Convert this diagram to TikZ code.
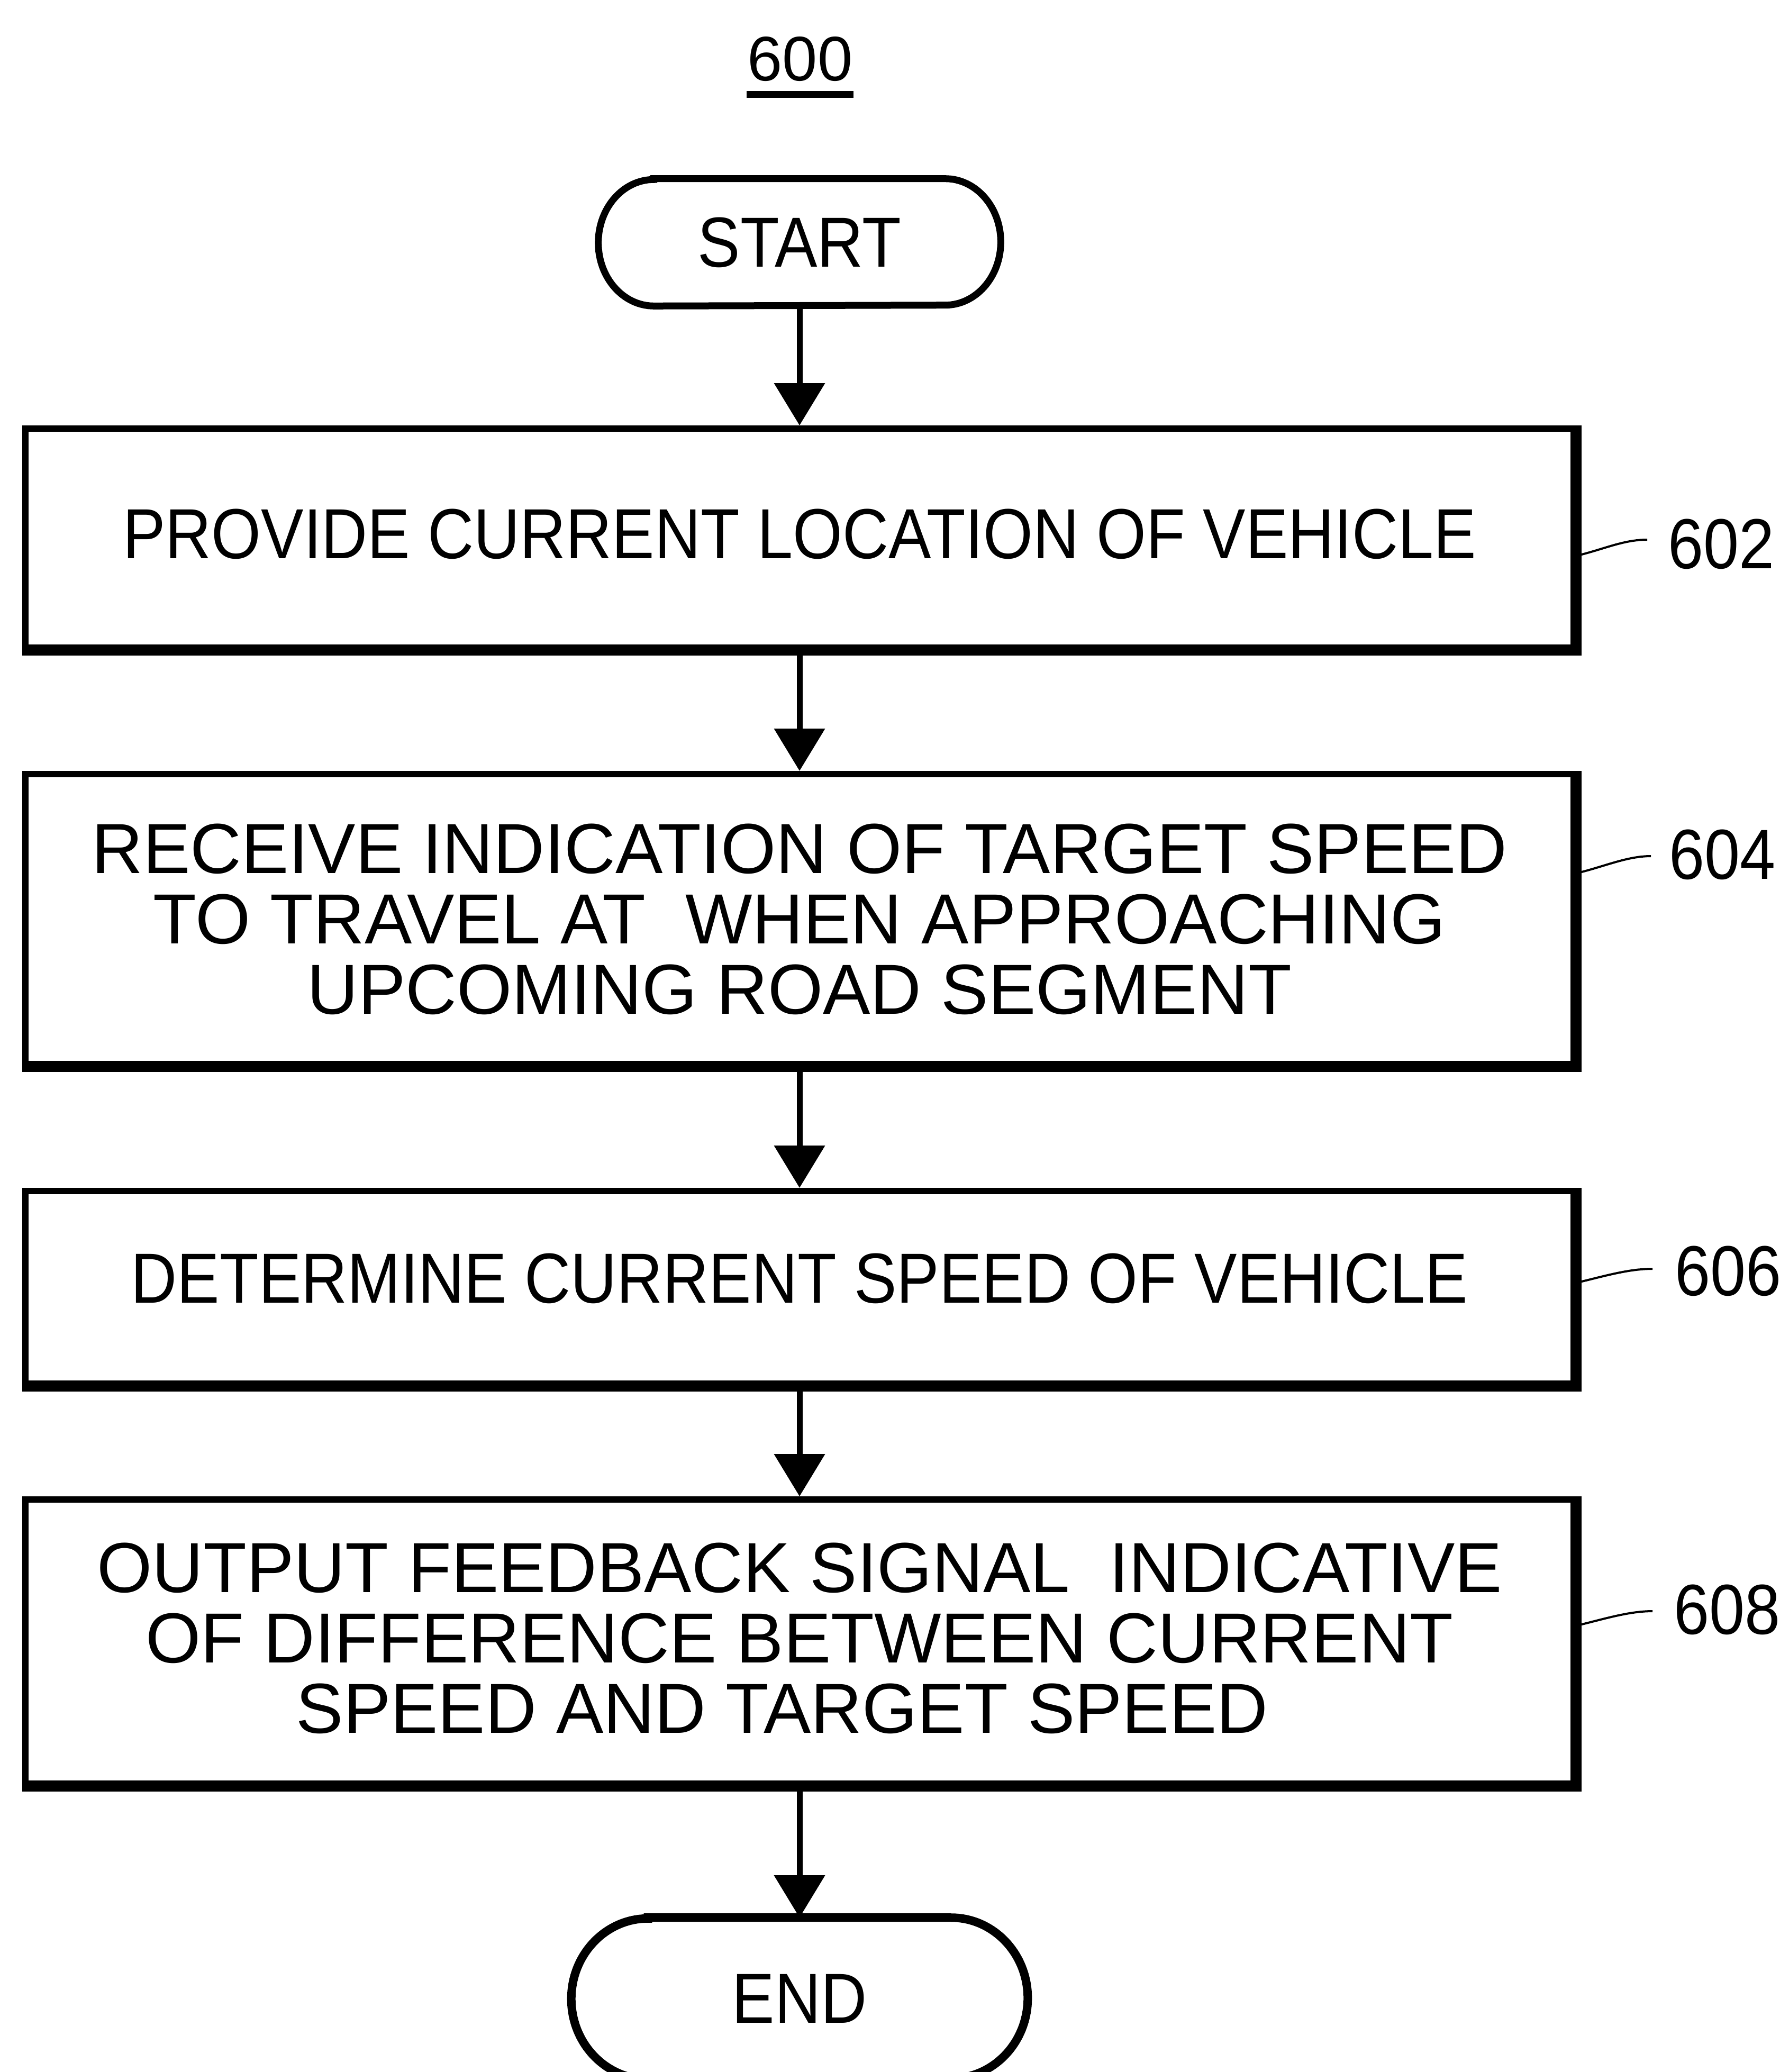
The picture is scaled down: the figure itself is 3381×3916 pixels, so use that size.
\documentclass[tikz,border=0pt]{standalone}
\usepackage{fontspec}
\setmainfont{Liberation Sans}
\newfontfamily\narrowfont[FakeStretch=0.9]{Liberation Sans}
\usetikzlibrary{arrows.meta,calc}
\begin{document}
\begin{tikzpicture}[x=0.25pt,y=0.25pt,
  boxbase/.style={draw, line width=3pt, inner sep=0pt, align=center, minimum width=731.5pt},
  narrowtext/.style={font=\narrowfont\fontsize{33.5}{33.25}\selectfont},
  widetext/.style={font=\fontsize{33.5}{33.25}\selectfont},
  termnode/.style={inner sep=0pt, font=\narrowfont\fontsize{33.5}{33.25}\selectfont},
  thickedge/.style={line width=4.5pt, line cap=square},
  flow/.style={line width=2.75pt, -{Triangle[width=23.5pt,length=20pt]}},
  reflabel/.style={inner sep=0pt, anchor=west, font=\narrowfont\fontsize{33.5}{33.25}\selectfont},
  leader/.style={line width=1pt}]
\useasboundingbox (0,0) rectangle (3381,-3916);

% title
\node[inner sep=0pt, anchor=base, font=\fontsize{29.75}{30}\selectfont] (t600) at (1512,-153) {600};
\draw[line width=3.25pt] ($(t600.base)+(-101,-25.5)$) -- ($(t600.base)+(101,-25.5)$);

% START terminal
\node[termnode, minimum width=189.75pt, minimum height=59.75pt] (start) at (1511,-458) {START};
\draw[line width=3.25pt] ($(start.north west)+(105,0)$) -- ($(start.north east)+(-105,0)$)
  arc[start angle=90, end angle=-90, x radius=26.25pt, y radius=29.875pt]
  -- ($(start.south west)+(105,0)$)
  arc[start angle=270, end angle=90, x radius=26.25pt, y radius=29.875pt] -- cycle;

% process boxes
\node[boxbase, narrowtext, minimum height=103.5pt, text depth=4pt] (b602) at (1511,-1017) {PROVIDE CURRENT LOCATION OF VEHICLE};
\draw[thickedge] (b602.north east) -- (b602.south east) -- (b602.south west);

\node[boxbase, widetext, minimum height=137pt] (b604) at (1511,-1737) {RECEIVE INDICATION OF TARGET SPEED\\TO TRAVEL AT \ WHEN APPROACHING\\UPCOMING ROAD SEGMENT};
\draw[thickedge] (b604.north east) -- (b604.south east) -- (b604.south west);

\node[boxbase, narrowtext, minimum height=91pt, text depth=8.5pt] (b606) at (1511,-2433) {DETERMINE CURRENT SPEED OF VEHICLE};
\draw[thickedge] (b606.north east) -- (b606.south east) -- (b606.south west);

\node[boxbase, widetext, minimum height=134.25pt] (b608) at (1511,-3102.5) {OUTPUT FEEDBACK SIGNAL \ INDICATIVE\\OF DIFFERENCE BETWEEN CURRENT\\SPEED AND TARGET SPEED\hspace*{16.5pt}\rule[-3.5pt]{0pt}{1pt}};
\draw[thickedge] (b608.north east) -- (b608.south east) -- (b608.south west);

% END terminal
\node[termnode, minimum width=215.25pt, minimum height=76pt] (end) at (1511,-3777) {END};
\draw[line width=4pt] ($(end.north west)+(145,0)$) -- ($(end.north east)+(-145,0)$)
  arc[start angle=90, end angle=-90, x radius=36.25pt, y radius=38pt]
  -- ($(end.south west)+(145,0)$)
  arc[start angle=270, end angle=90, x radius=36.25pt, y radius=38pt] -- cycle;

% flow arrows
\draw[flow] (start.south) -- (b602.north);
\draw[flow] (b602.south) -- (b604.north);
\draw[flow] (b604.south) -- (b606.north);
\draw[flow] (b606.south) -- (b608.north);
\draw[flow] (b608.south) -- (end.north);

% reference labels
\node[reflabel] (l602) at (3152,-1028) {602};
\node[reflabel] (l604) at (3154,-1615) {604};
\node[reflabel] (l606) at (3165,-2402) {606};
\node[reflabel] (l608) at (3163,-3042) {608};

\coordinate (k602a) at (2981,-1050);
\coordinate (k602b) at (3113,-1020);
\coordinate (k604a) at (2981,-1650);
\coordinate (k604b) at (3120,-1618);
\coordinate (k606a) at (2981,-2424);
\coordinate (k606b) at (3123,-2398);
\coordinate (k608a) at (2981,-3072);
\coordinate (k608b) at (3123,-3045);
\foreach \n in {602,604,606,608}{
  \draw[leader] (k\n a) .. controls ($(k\n a)+(50,12)$) and ($(k\n b)+(-45,0)$) .. (k\n b);
}
\end{tikzpicture}
\end{document}
